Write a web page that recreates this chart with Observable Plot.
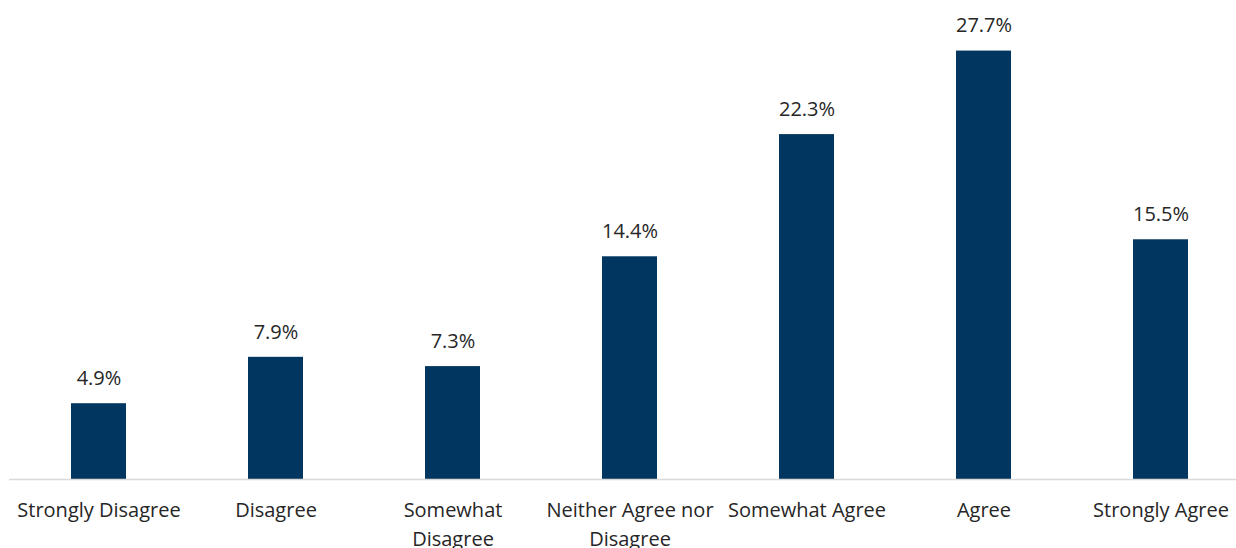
<!DOCTYPE html>
<html>
<head>
<meta charset="utf-8">
<script src="https://cdn.jsdelivr.net/npm/d3@7"></script>
<script src="https://cdn.jsdelivr.net/npm/@observablehq/plot@0.6"></script>
<style>
  html, body { margin: 0; padding: 0; background: #fff; }
  #chart svg { display: block; }
</style>
</head>
<body>
<div id="chart"></div>
<script>
const categories = ["Strongly Disagree", "Disagree", "Somewhat Disagree", "Neither Agree nor Disagree", "Somewhat Agree", "Agree", "Strongly Agree"];
const tickLabels = ["Strongly Disagree", "Disagree", "Somewhat\nDisagree", "Neither Agree nor\nDisagree", "Somewhat Agree", "Agree", "Strongly Agree"];
const values = [4.9, 7.9, 7.3, 14.4, 22.3, 27.7, 15.5];

const data = categories.map((c, i) => ({category: c, value: values[i]}));
const labelOf = new Map(categories.map((c, i) => [c, tickLabels[i]]));

const W = 1236, H = 548;
const chart = Plot.plot({
  width: W,
  height: H,
  marginTop: 15,
  marginBottom: 69,
  marginLeft: 9,
  marginRight: 0,
  style: {fontFamily: "'Open Sans', sans-serif", fontSize: "20px", color: "#262626", background: "#fff"},
  x: {domain: categories, paddingInner: 0.69, paddingOuter: 0.345, range: [9, 1250], label: null},
  y: {domain: [0, 30], axis: null},
  marks: [
    Plot.barY(data, {x: "category", y: "value", fill: "#003660"}),
    Plot.ruleY([0], {stroke: "#d9d9d9", strokeWidth: 1.5}),
    Plot.text(data, {x: "category", y: "value", text: d => d.value.toFixed(1) + "%", dy: -25, fontSize: 20, fill: "#262626"}),
    Plot.axisX({tickSize: 0, tickPadding: 17, fontSize: 20, lineHeight: 1.45, tickFormat: d => labelOf.get(d), fill: "#262626", textAnchor: "middle"})
  ]
});
document.getElementById("chart").appendChild(chart);
</script>
</body>
</html>
